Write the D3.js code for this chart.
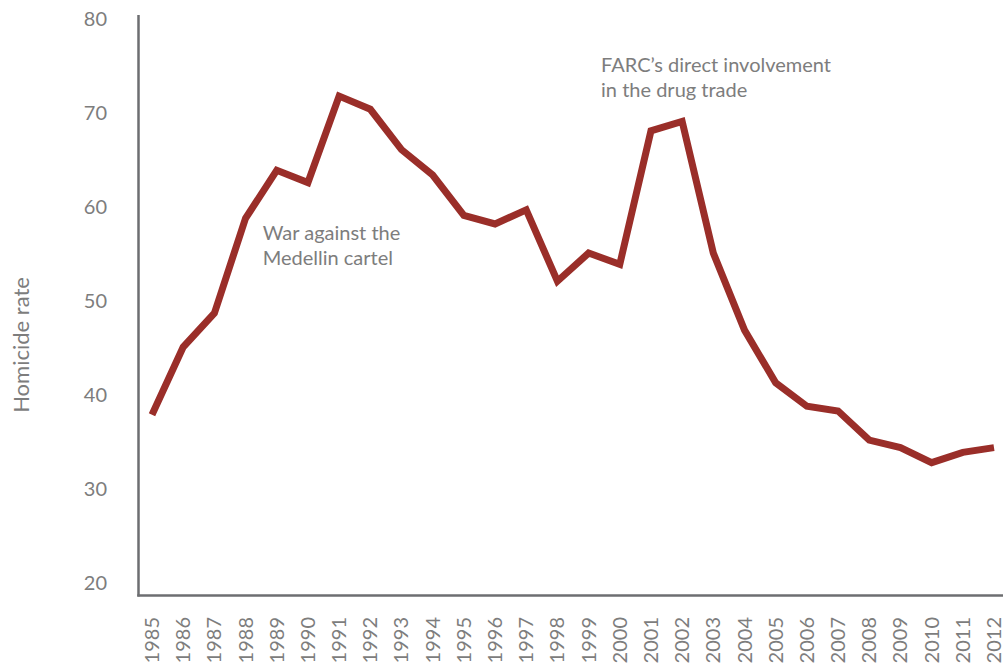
<!DOCTYPE html>
<html>
<head>
<meta charset="utf-8">
<script src="https://cdn.jsdelivr.net/npm/d3@7"></script>
<style>
  html, body { margin: 0; padding: 0; background: #fff; }
  svg text { font-family: "Lato", "Open Sans", sans-serif; font-weight: 400; fill: #7d7d7d; }
</style>
</head>
<body>
<svg id="chart" width="1003" height="667"></svg>
<script>
const years = [1985,1986,1987,1988,1989,1990,1991,1992,1993,1994,1995,1996,1997,1998,1999,2000,2001,2002,2003,2004,2005,2006,2007,2008,2009,2010,2011,2012];
const homicideRate = [37.9,45.1,48.7,58.8,63.9,62.6,71.8,70.4,66.1,63.4,59.1,58.2,59.7,52.1,55.1,53.9,68.1,69.1,55.1,46.9,41.3,38.8,38.3,35.2,34.4,32.8,33.9,34.4];
const yTicks = [20,30,40,50,60,70,80];
const annotations = [
  { year: 1988.55, value: 56.5, lines: ["War against the", "Medellin cartel"] },
  { year: 1999.4, value: 74.4, lines: ["FARC\u2019s direct involvement", "in the drug trade"] }
];

const svg = d3.select("#chart");
const x = d3.scaleLinear().domain([1985, 2012]).range([152, 994]);
const y = d3.scaleLinear().domain([20, 80]).range([583, 19]);

// axes lines
const axisColor = "#6d6e71";
svg.append("line").attr("x1", 138.5).attr("x2", 138.5).attr("y1", 15).attr("y2", 596.5)
  .attr("stroke", axisColor).attr("stroke-width", 2.5);
svg.append("line").attr("x1", 137.3).attr("x2", 1003).attr("y1", 595.5).attr("y2", 595.5)
  .attr("stroke", axisColor).attr("stroke-width", 2.5);

// y tick labels
svg.append("g").selectAll("text").data(yTicks).join("text")
  .attr("x", 107).attr("y", d => y(d)).attr("dy", "0.36em")
  .attr("text-anchor", "end").style("font-size", "20px")
  .text(d => d);

// x tick labels
svg.append("g").selectAll("text").data(years).join("text")
  .attr("transform", d => `translate(${x(d)},617) rotate(-90)`)
  .attr("text-anchor", "end").attr("dy", "0.35em").style("font-size", "20px")
  .text(d => d);

// y axis title
svg.append("text").attr("transform", "translate(21,345) rotate(-90)")
  .attr("text-anchor", "middle").attr("dy", "0.36em").style("font-size", "22px")
  .text("Homicide rate");

// line
const line = d3.line().x((d, i) => x(years[i])).y(d => y(d));
svg.append("path").datum(homicideRate).attr("d", line)
  .attr("fill", "none").attr("stroke", "#9a2e29").attr("stroke-width", 7)
  .attr("stroke-linejoin", "miter").attr("stroke-linecap", "butt");

// annotations
annotations.forEach(a => {
  const t = svg.append("text").attr("x", x(a.year)).attr("y", y(a.value)).style("font-size", "20px");
  a.lines.forEach((l, i) => t.append("tspan").attr("x", x(a.year)).attr("dy", i === 0 ? 0 : 25.5).text(l));
});
</script>
</body>
</html>
